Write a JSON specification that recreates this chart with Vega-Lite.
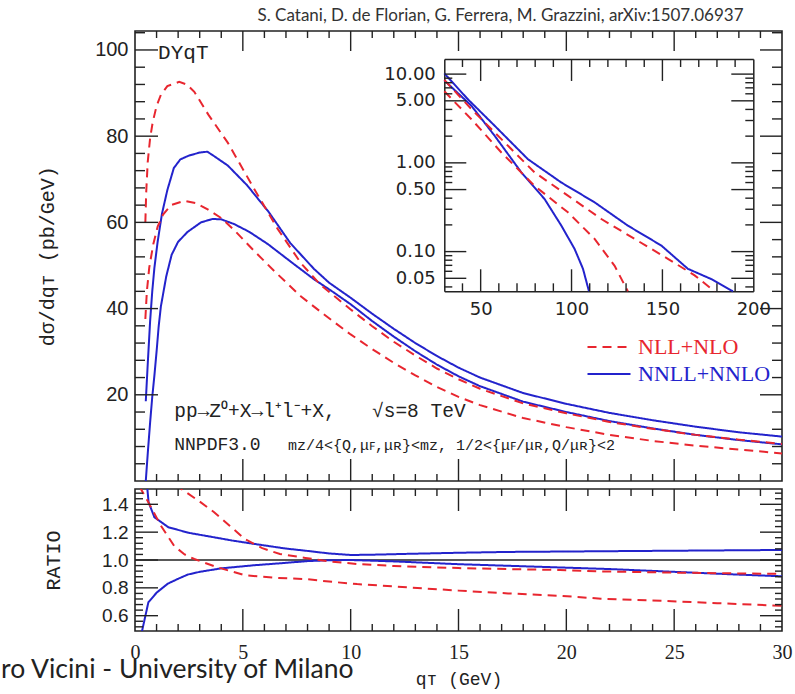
{
  "$schema": "https://vega.github.io/schema/vega-lite/v6.json",
  "background": "white",
  "padding": {"left": 0, "top": 6, "right": 5, "bottom": 2},
  "title": {"text": "S. Catani, D. de Florian, G. Ferrera, M. Grazzini, arXiv:1507.06937", "font": "Lato", "fontSize": 17, "fontWeight": "normal", "color": "#333", "anchor": "middle", "dx": 104, "offset": 5},
  "config": {
    "view": {"stroke": "#222", "strokeWidth": 1.6},
    "axis": {"domain": false, "grid": false, "ticks": false, "labelColor": "#222", "titleColor": "#222", "titleFontWeight": "normal", "labelFlush": false},
    "rule": {"color": "#222", "strokeWidth": 1.4, "opacity": 1}
  },
  "datasets": {
    "main": [
      {"c": "bu", "s": "NNLL+NNLO", "x": 0.5, "y": 18.5}, {"c": "bu", "s": "NNLL+NNLO", "x": 0.6, "y": 28}, {"c": "bu", "s": "NNLL+NNLO", "x": 0.7, "y": 37}, {"c": "bu", "s": "NNLL+NNLO", "x": 0.8, "y": 44}, {"c": "bu", "s": "NNLL+NNLO", "x": 0.9, "y": 49.5}, {"c": "bu", "s": "NNLL+NNLO", "x": 1.05, "y": 55.5}, {"c": "bu", "s": "NNLL+NNLO", "x": 1.25, "y": 62}, {"c": "bu", "s": "NNLL+NNLO", "x": 1.5, "y": 67.5}, {"c": "bu", "s": "NNLL+NNLO", "x": 1.8, "y": 72.6}, {"c": "bu", "s": "NNLL+NNLO", "x": 2.1, "y": 74.6}, {"c": "bu", "s": "NNLL+NNLO", "x": 2.5, "y": 75.5}, {"c": "bu", "s": "NNLL+NNLO", "x": 3.0, "y": 76.2}, {"c": "bu", "s": "NNLL+NNLO", "x": 3.35, "y": 76.4}, {"c": "bu", "s": "NNLL+NNLO", "x": 3.6, "y": 75.6}, {"c": "bu", "s": "NNLL+NNLO", "x": 4.3, "y": 73.2}, {"c": "bu", "s": "NNLL+NNLO", "x": 5.2, "y": 68.6}, {"c": "bu", "s": "NNLL+NNLO", "x": 6.2, "y": 62.4}, {"c": "bu", "s": "NNLL+NNLO", "x": 7.2, "y": 55.2}, {"c": "bu", "s": "NNLL+NNLO", "x": 8.3, "y": 49.2}, {"c": "bu", "s": "NNLL+NNLO", "x": 9.0, "y": 46.0}, {"c": "bu", "s": "NNLL+NNLO", "x": 10, "y": 42.5}, {"c": "bu", "s": "NNLL+NNLO", "x": 11, "y": 38.8}, {"c": "bu", "s": "NNLL+NNLO", "x": 12, "y": 35.3}, {"c": "bu", "s": "NNLL+NNLO", "x": 13, "y": 32.0}, {"c": "bu", "s": "NNLL+NNLO", "x": 14, "y": 29.0}, {"c": "bu", "s": "NNLL+NNLO", "x": 15, "y": 26.3}, {"c": "bu", "s": "NNLL+NNLO", "x": 16, "y": 24.0}, {"c": "bu", "s": "NNLL+NNLO", "x": 18, "y": 20.4}, {"c": "bu", "s": "NNLL+NNLO", "x": 20, "y": 17.9}, {"c": "bu", "s": "NNLL+NNLO", "x": 22, "y": 15.8}, {"c": "bu", "s": "NNLL+NNLO", "x": 24, "y": 14.1}, {"c": "bu", "s": "NNLL+NNLO", "x": 26, "y": 12.6}, {"c": "bu", "s": "NNLL+NNLO", "x": 28, "y": 11.3}, {"c": "bu", "s": "NNLL+NNLO", "x": 30, "y": 10.3},
      {"c": "bl", "s": "NNLL+NNLO", "x": 0.5, "y": 0}, {"c": "bl", "s": "NNLL+NNLO", "x": 0.6, "y": 7}, {"c": "bl", "s": "NNLL+NNLO", "x": 0.7, "y": 13.5}, {"c": "bl", "s": "NNLL+NNLO", "x": 0.8, "y": 19.5}, {"c": "bl", "s": "NNLL+NNLO", "x": 0.9, "y": 24.5}, {"c": "bl", "s": "NNLL+NNLO", "x": 1.0, "y": 30}, {"c": "bl", "s": "NNLL+NNLO", "x": 1.1, "y": 36}, {"c": "bl", "s": "NNLL+NNLO", "x": 1.2, "y": 40.5}, {"c": "bl", "s": "NNLL+NNLO", "x": 1.45, "y": 47.5}, {"c": "bl", "s": "NNLL+NNLO", "x": 1.7, "y": 52.5}, {"c": "bl", "s": "NNLL+NNLO", "x": 2.0, "y": 55.5}, {"c": "bl", "s": "NNLL+NNLO", "x": 2.44, "y": 57.8}, {"c": "bl", "s": "NNLL+NNLO", "x": 3.06, "y": 60.0}, {"c": "bl", "s": "NNLL+NNLO", "x": 3.6, "y": 60.8}, {"c": "bl", "s": "NNLL+NNLO", "x": 4.0, "y": 60.7}, {"c": "bl", "s": "NNLL+NNLO", "x": 4.6, "y": 59.6}, {"c": "bl", "s": "NNLL+NNLO", "x": 5.3, "y": 57.8}, {"c": "bl", "s": "NNLL+NNLO", "x": 6.15, "y": 55.0}, {"c": "bl", "s": "NNLL+NNLO", "x": 7.4, "y": 50.2}, {"c": "bl", "s": "NNLL+NNLO", "x": 8.3, "y": 46.8}, {"c": "bl", "s": "NNLL+NNLO", "x": 9.2, "y": 43.8}, {"c": "bl", "s": "NNLL+NNLO", "x": 10, "y": 41.0}, {"c": "bl", "s": "NNLL+NNLO", "x": 11, "y": 37.1}, {"c": "bl", "s": "NNLL+NNLO", "x": 12, "y": 33.5}, {"c": "bl", "s": "NNLL+NNLO", "x": 13, "y": 30.1}, {"c": "bl", "s": "NNLL+NNLO", "x": 14, "y": 27.0}, {"c": "bl", "s": "NNLL+NNLO", "x": 15, "y": 24.3}, {"c": "bl", "s": "NNLL+NNLO", "x": 16, "y": 22.0}, {"c": "bl", "s": "NNLL+NNLO", "x": 18, "y": 18.4}, {"c": "bl", "s": "NNLL+NNLO", "x": 20, "y": 16.0}, {"c": "bl", "s": "NNLL+NNLO", "x": 22, "y": 13.9}, {"c": "bl", "s": "NNLL+NNLO", "x": 24, "y": 12.2}, {"c": "bl", "s": "NNLL+NNLO", "x": 26, "y": 10.7}, {"c": "bl", "s": "NNLL+NNLO", "x": 28, "y": 9.5}, {"c": "bl", "s": "NNLL+NNLO", "x": 30, "y": 8.5},
      {"c": "ru", "s": "NLL+NLO", "x": 0.48, "y": 60}, {"c": "ru", "s": "NLL+NLO", "x": 0.52, "y": 67}, {"c": "ru", "s": "NLL+NLO", "x": 0.59, "y": 74}, {"c": "ru", "s": "NLL+NLO", "x": 0.7, "y": 79.5}, {"c": "ru", "s": "NLL+NLO", "x": 0.82, "y": 83.2}, {"c": "ru", "s": "NLL+NLO", "x": 1.0, "y": 87}, {"c": "ru", "s": "NLL+NLO", "x": 1.2, "y": 89.6}, {"c": "ru", "s": "NLL+NLO", "x": 1.5, "y": 91.6}, {"c": "ru", "s": "NLL+NLO", "x": 2.05, "y": 92.6}, {"c": "ru", "s": "NLL+NLO", "x": 2.4, "y": 92.0}, {"c": "ru", "s": "NLL+NLO", "x": 2.75, "y": 90.3}, {"c": "ru", "s": "NLL+NLO", "x": 3.4, "y": 85.0}, {"c": "ru", "s": "NLL+NLO", "x": 4.3, "y": 78.5}, {"c": "ru", "s": "NLL+NLO", "x": 5.5, "y": 68.0}, {"c": "ru", "s": "NLL+NLO", "x": 6.6, "y": 58.6}, {"c": "ru", "s": "NLL+NLO", "x": 7.7, "y": 50.5}, {"c": "ru", "s": "NLL+NLO", "x": 8.6, "y": 45.5}, {"c": "ru", "s": "NLL+NLO", "x": 10, "y": 39.8}, {"c": "ru", "s": "NLL+NLO", "x": 11, "y": 35.9}, {"c": "ru", "s": "NLL+NLO", "x": 12, "y": 32.3}, {"c": "ru", "s": "NLL+NLO", "x": 13, "y": 29.1}, {"c": "ru", "s": "NLL+NLO", "x": 14, "y": 26.1}, {"c": "ru", "s": "NLL+NLO", "x": 15, "y": 23.6}, {"c": "ru", "s": "NLL+NLO", "x": 16, "y": 21.4}, {"c": "ru", "s": "NLL+NLO", "x": 18, "y": 18.0}, {"c": "ru", "s": "NLL+NLO", "x": 20, "y": 15.7}, {"c": "ru", "s": "NLL+NLO", "x": 22, "y": 13.7}, {"c": "ru", "s": "NLL+NLO", "x": 24, "y": 12.1}, {"c": "ru", "s": "NLL+NLO", "x": 26, "y": 10.7}, {"c": "ru", "s": "NLL+NLO", "x": 28, "y": 9.6}, {"c": "ru", "s": "NLL+NLO", "x": 30, "y": 8.6},
      {"c": "rl", "s": "NLL+NLO", "x": 0.48, "y": 37.6}, {"c": "rl", "s": "NLL+NLO", "x": 0.55, "y": 44}, {"c": "rl", "s": "NLL+NLO", "x": 0.66, "y": 49.5}, {"c": "rl", "s": "NLL+NLO", "x": 0.85, "y": 55}, {"c": "rl", "s": "NLL+NLO", "x": 1.05, "y": 59}, {"c": "rl", "s": "NLL+NLO", "x": 1.3, "y": 61.8}, {"c": "rl", "s": "NLL+NLO", "x": 1.67, "y": 64}, {"c": "rl", "s": "NLL+NLO", "x": 2.29, "y": 65}, {"c": "rl", "s": "NLL+NLO", "x": 2.8, "y": 64.5}, {"c": "rl", "s": "NLL+NLO", "x": 3.37, "y": 63}, {"c": "rl", "s": "NLL+NLO", "x": 4.0, "y": 61}, {"c": "rl", "s": "NLL+NLO", "x": 4.6, "y": 58.2}, {"c": "rl", "s": "NLL+NLO", "x": 5.5, "y": 53.5}, {"c": "rl", "s": "NLL+NLO", "x": 6.5, "y": 48.5}, {"c": "rl", "s": "NLL+NLO", "x": 7.7, "y": 42.8}, {"c": "rl", "s": "NLL+NLO", "x": 8.8, "y": 38.5}, {"c": "rl", "s": "NLL+NLO", "x": 10, "y": 34.0}, {"c": "rl", "s": "NLL+NLO", "x": 11, "y": 30.6}, {"c": "rl", "s": "NLL+NLO", "x": 12, "y": 27.4}, {"c": "rl", "s": "NLL+NLO", "x": 13, "y": 24.5}, {"c": "rl", "s": "NLL+NLO", "x": 14, "y": 21.8}, {"c": "rl", "s": "NLL+NLO", "x": 15, "y": 19.5}, {"c": "rl", "s": "NLL+NLO", "x": 16, "y": 17.6}, {"c": "rl", "s": "NLL+NLO", "x": 18, "y": 14.6}, {"c": "rl", "s": "NLL+NLO", "x": 20, "y": 12.5}, {"c": "rl", "s": "NLL+NLO", "x": 22, "y": 10.7}, {"c": "rl", "s": "NLL+NLO", "x": 24, "y": 9.3}, {"c": "rl", "s": "NLL+NLO", "x": 26, "y": 8.2}, {"c": "rl", "s": "NLL+NLO", "x": 28, "y": 7.3}, {"c": "rl", "s": "NLL+NLO", "x": 30, "y": 6.4}
    ],
    "inset": [
      {"c": "bu", "s": "NNLL+NNLO", "x": 30, "y": 10.2}, {"c": "bu", "s": "NNLL+NNLO", "x": 43, "y": 5.2}, {"c": "bu", "s": "NNLL+NNLO", "x": 57.7, "y": 2.62}, {"c": "bu", "s": "NNLL+NNLO", "x": 76, "y": 1.10}, {"c": "bu", "s": "NNLL+NNLO", "x": 94.4, "y": 0.60}, {"c": "bu", "s": "NNLL+NNLO", "x": 112.7, "y": 0.359}, {"c": "bu", "s": "NNLL+NNLO", "x": 131, "y": 0.196}, {"c": "bu", "s": "NNLL+NNLO", "x": 149.4, "y": 0.117}, {"c": "bu", "s": "NNLL+NNLO", "x": 164, "y": 0.064}, {"c": "bu", "s": "NNLL+NNLO", "x": 176.9, "y": 0.049}, {"c": "bu", "s": "NNLL+NNLO", "x": 188.8, "y": 0.0357},
      {"c": "bl", "s": "NNLL+NNLO", "x": 30, "y": 8.5}, {"c": "bl", "s": "NNLL+NNLO", "x": 44.9, "y": 4.4}, {"c": "bl", "s": "NNLL+NNLO", "x": 57.7, "y": 2.02}, {"c": "bl", "s": "NNLL+NNLO", "x": 72.4, "y": 0.78}, {"c": "bl", "s": "NNLL+NNLO", "x": 85.2, "y": 0.39}, {"c": "bl", "s": "NNLL+NNLO", "x": 94.4, "y": 0.196}, {"c": "bl", "s": "NNLL+NNLO", "x": 101.7, "y": 0.107}, {"c": "bl", "s": "NNLL+NNLO", "x": 106.3, "y": 0.064}, {"c": "bl", "s": "NNLL+NNLO", "x": 109.6, "y": 0.0357},
      {"c": "ru", "s": "NLL+NLO", "x": 30, "y": 8.6}, {"c": "ru", "s": "NLL+NLO", "x": 44.9, "y": 4.04}, {"c": "ru", "s": "NLL+NLO", "x": 61.4, "y": 1.85}, {"c": "ru", "s": "NLL+NLO", "x": 79.7, "y": 0.78}, {"c": "ru", "s": "NLL+NLO", "x": 98, "y": 0.427}, {"c": "ru", "s": "NLL+NLO", "x": 116.4, "y": 0.233}, {"c": "ru", "s": "NLL+NLO", "x": 134.7, "y": 0.139}, {"c": "ru", "s": "NLL+NLO", "x": 153, "y": 0.083}, {"c": "ru", "s": "NLL+NLO", "x": 167.7, "y": 0.054}, {"c": "ru", "s": "NLL+NLO", "x": 178.7, "y": 0.0357},
      {"c": "rl", "s": "NLL+NLO", "x": 30, "y": 6.4}, {"c": "rl", "s": "NLL+NLO", "x": 44.9, "y": 3.1}, {"c": "rl", "s": "NLL+NLO", "x": 61.4, "y": 1.31}, {"c": "rl", "s": "NLL+NLO", "x": 79.7, "y": 0.55}, {"c": "rl", "s": "NLL+NLO", "x": 98, "y": 0.277}, {"c": "rl", "s": "NLL+NLO", "x": 112.7, "y": 0.139}, {"c": "rl", "s": "NLL+NLO", "x": 123.7, "y": 0.069}, {"c": "rl", "s": "NLL+NLO", "x": 131, "y": 0.0357}
    ],
    "ratio": [
      {"c": "bu", "s": "NNLL+NNLO", "x": 0.52, "y": 1.6}, {"c": "bu", "s": "NNLL+NNLO", "x": 0.63, "y": 1.415}, {"c": "bu", "s": "NNLL+NNLO", "x": 0.9, "y": 1.307}, {"c": "bu", "s": "NNLL+NNLO", "x": 1.55, "y": 1.235}, {"c": "bu", "s": "NNLL+NNLO", "x": 2.5, "y": 1.195}, {"c": "bu", "s": "NNLL+NNLO", "x": 3.67, "y": 1.163}, {"c": "bu", "s": "NNLL+NNLO", "x": 4.5, "y": 1.14}, {"c": "bu", "s": "NNLL+NNLO", "x": 5.55, "y": 1.115}, {"c": "bu", "s": "NNLL+NNLO", "x": 7.0, "y": 1.082}, {"c": "bu", "s": "NNLL+NNLO", "x": 7.9, "y": 1.067}, {"c": "bu", "s": "NNLL+NNLO", "x": 9.0, "y": 1.047}, {"c": "bu", "s": "NNLL+NNLO", "x": 10.0, "y": 1.036}, {"c": "bu", "s": "NNLL+NNLO", "x": 11, "y": 1.038}, {"c": "bu", "s": "NNLL+NNLO", "x": 12.6, "y": 1.044}, {"c": "bu", "s": "NNLL+NNLO", "x": 15, "y": 1.052}, {"c": "bu", "s": "NNLL+NNLO", "x": 17.3, "y": 1.058}, {"c": "bu", "s": "NNLL+NNLO", "x": 20, "y": 1.061}, {"c": "bu", "s": "NNLL+NNLO", "x": 24.4, "y": 1.066}, {"c": "bu", "s": "NNLL+NNLO", "x": 30, "y": 1.072},
      {"c": "bl", "s": "NNLL+NNLO", "x": 0.27, "y": 0.45}, {"c": "bl", "s": "NNLL+NNLO", "x": 0.62, "y": 0.696}, {"c": "bl", "s": "NNLL+NNLO", "x": 1.0, "y": 0.765}, {"c": "bl", "s": "NNLL+NNLO", "x": 1.52, "y": 0.83}, {"c": "bl", "s": "NNLL+NNLO", "x": 2.0, "y": 0.865}, {"c": "bl", "s": "NNLL+NNLO", "x": 2.44, "y": 0.895}, {"c": "bl", "s": "NNLL+NNLO", "x": 3.0, "y": 0.915}, {"c": "bl", "s": "NNLL+NNLO", "x": 4.0, "y": 0.94}, {"c": "bl", "s": "NNLL+NNLO", "x": 5.5, "y": 0.962}, {"c": "bl", "s": "NNLL+NNLO", "x": 6.7, "y": 0.976}, {"c": "bl", "s": "NNLL+NNLO", "x": 8.0, "y": 0.992}, {"c": "bl", "s": "NNLL+NNLO", "x": 9.0, "y": 0.998}, {"c": "bl", "s": "NNLL+NNLO", "x": 10, "y": 1.0}, {"c": "bl", "s": "NNLL+NNLO", "x": 12, "y": 0.99}, {"c": "bl", "s": "NNLL+NNLO", "x": 15, "y": 0.97}, {"c": "bl", "s": "NNLL+NNLO", "x": 17, "y": 0.96}, {"c": "bl", "s": "NNLL+NNLO", "x": 20, "y": 0.945}, {"c": "bl", "s": "NNLL+NNLO", "x": 22, "y": 0.935}, {"c": "bl", "s": "NNLL+NNLO", "x": 25, "y": 0.915}, {"c": "bl", "s": "NNLL+NNLO", "x": 28, "y": 0.895}, {"c": "bl", "s": "NNLL+NNLO", "x": 30, "y": 0.883},
      {"c": "ru", "s": "NLL+NLO", "x": 2.0, "y": 1.56}, {"c": "ru", "s": "NLL+NLO", "x": 2.15, "y": 1.51}, {"c": "ru", "s": "NLL+NLO", "x": 3.0, "y": 1.42}, {"c": "ru", "s": "NLL+NLO", "x": 3.67, "y": 1.343}, {"c": "ru", "s": "NLL+NLO", "x": 4.4, "y": 1.245}, {"c": "ru", "s": "NLL+NLO", "x": 5.08, "y": 1.151}, {"c": "ru", "s": "NLL+NLO", "x": 5.9, "y": 1.085}, {"c": "ru", "s": "NLL+NLO", "x": 6.72, "y": 1.043}, {"c": "ru", "s": "NLL+NLO", "x": 7.9, "y": 1.015}, {"c": "ru", "s": "NLL+NLO", "x": 9.0, "y": 0.99}, {"c": "ru", "s": "NLL+NLO", "x": 10.3, "y": 0.971}, {"c": "ru", "s": "NLL+NLO", "x": 12, "y": 0.957}, {"c": "ru", "s": "NLL+NLO", "x": 15, "y": 0.942}, {"c": "ru", "s": "NLL+NLO", "x": 17.3, "y": 0.935}, {"c": "ru", "s": "NLL+NLO", "x": 19.7, "y": 0.928}, {"c": "ru", "s": "NLL+NLO", "x": 21.6, "y": 0.918}, {"c": "ru", "s": "NLL+NLO", "x": 24.4, "y": 0.911}, {"c": "ru", "s": "NLL+NLO", "x": 27, "y": 0.905}, {"c": "ru", "s": "NLL+NLO", "x": 30, "y": 0.9},
      {"c": "rl", "s": "NLL+NLO", "x": 0.2, "y": 1.53}, {"c": "rl", "s": "NLL+NLO", "x": 0.62, "y": 1.415}, {"c": "rl", "s": "NLL+NLO", "x": 1.2, "y": 1.247}, {"c": "rl", "s": "NLL+NLO", "x": 1.82, "y": 1.10}, {"c": "rl", "s": "NLL+NLO", "x": 2.3, "y": 1.04}, {"c": "rl", "s": "NLL+NLO", "x": 2.75, "y": 1.007}, {"c": "rl", "s": "NLL+NLO", "x": 3.83, "y": 0.947}, {"c": "rl", "s": "NLL+NLO", "x": 5.1, "y": 0.89}, {"c": "rl", "s": "NLL+NLO", "x": 6.5, "y": 0.872}, {"c": "rl", "s": "NLL+NLO", "x": 7.9, "y": 0.863}, {"c": "rl", "s": "NLL+NLO", "x": 9.0, "y": 0.845}, {"c": "rl", "s": "NLL+NLO", "x": 10.3, "y": 0.827}, {"c": "rl", "s": "NLL+NLO", "x": 12, "y": 0.81}, {"c": "rl", "s": "NLL+NLO", "x": 15, "y": 0.78}, {"c": "rl", "s": "NLL+NLO", "x": 17.3, "y": 0.76}, {"c": "rl", "s": "NLL+NLO", "x": 19.7, "y": 0.743}, {"c": "rl", "s": "NLL+NLO", "x": 21.6, "y": 0.722}, {"c": "rl", "s": "NLL+NLO", "x": 24.4, "y": 0.707}, {"c": "rl", "s": "NLL+NLO", "x": 27, "y": 0.69}, {"c": "rl", "s": "NLL+NLO", "x": 30, "y": 0.671}
    ],
    "mainYMajor": [{"y": 20}, {"y": 40}, {"y": 60}, {"y": 80}, {"y": 100}],
    "mainYMinor": [{"y": 4}, {"y": 8}, {"y": 12}, {"y": 16}, {"y": 24}, {"y": 28}, {"y": 32}, {"y": 36}, {"y": 44}, {"y": 48}, {"y": 52}, {"y": 56}, {"y": 64}, {"y": 68}, {"y": 72}, {"y": 76}, {"y": 84}, {"y": 88}, {"y": 92}, {"y": 96}, {"y": 104}],
    "qtMajor": [{"x": 5}, {"x": 10}, {"x": 15}, {"x": 20}, {"x": 25}],
    "qtMinor": [{"x": 1}, {"x": 2}, {"x": 3}, {"x": 4}, {"x": 6}, {"x": 7}, {"x": 8}, {"x": 9}, {"x": 11}, {"x": 12}, {"x": 13}, {"x": 14}, {"x": 16}, {"x": 17}, {"x": 18}, {"x": 19}, {"x": 21}, {"x": 22}, {"x": 23}, {"x": 24}, {"x": 26}, {"x": 27}, {"x": 28}, {"x": 29}],
    "insetYMajor": [{"y": 0.05}, {"y": 0.1}, {"y": 0.5}, {"y": 1}, {"y": 5}, {"y": 10}],
    "insetYMinor": [{"y": 0.04}, {"y": 0.06}, {"y": 0.07}, {"y": 0.08}, {"y": 0.09}, {"y": 0.2}, {"y": 0.3}, {"y": 0.4}, {"y": 0.6}, {"y": 0.7}, {"y": 0.8}, {"y": 0.9}, {"y": 2}, {"y": 3}, {"y": 4}, {"y": 6}, {"y": 7}, {"y": 8}, {"y": 9}],
    "insetXMajor": [{"x": 50}, {"x": 100}, {"x": 150}],
    "insetXMinor": [{"x": 40}, {"x": 60}, {"x": 70}, {"x": 80}, {"x": 90}, {"x": 110}, {"x": 120}, {"x": 130}, {"x": 140}, {"x": 160}, {"x": 170}, {"x": 180}, {"x": 190}],
    "ratioMajor": [{"y": 0.6}, {"y": 0.8}, {"y": 1.0}, {"y": 1.2}, {"y": 1.4}],
    "ratioMinor": [{"y": 0.52}, {"y": 0.56}, {"y": 0.64}, {"y": 0.68}, {"y": 0.72}, {"y": 0.76}, {"y": 0.84}, {"y": 0.88}, {"y": 0.92}, {"y": 0.96}, {"y": 1.04}, {"y": 1.08}, {"y": 1.12}, {"y": 1.16}, {"y": 1.24}, {"y": 1.28}, {"y": 1.32}, {"y": 1.36}, {"y": 1.44}, {"y": 1.48}]
  },
  "bounds": "flush",
  "spacing": 8,
  "vconcat": [
    {
      "width": 647,
      "height": 450,
      "layer": [
        {
          "layer": [
            {
              "data": {"name": "main"},
              "mark": {"type": "line", "strokeWidth": 2, "clip": true},
              "encoding": {
                "x": {"field": "x", "type": "quantitative", "scale": {"domain": [0, 30], "nice": false, "zero": false}, "axis": null},
                "y": {"field": "y", "type": "quantitative", "scale": {"domain": [0, 104.4], "nice": false, "zero": false}, "axis": {"orient": "left", "values": [20, 40, 60, 80, 100], "labelPadding": 7, "labelFont": "Liberation Sans", "labelFontSize": 20, "title": "dσ/dqᴛ (pb/GeV)", "titleFont": "Liberation Mono", "titleFontSize": 20, "titleX": -88, "titleY": 224.7, "titleAngle": -90, "titleAlign": "center", "titleBaseline": "middle"}},
                "color": {"field": "s", "type": "nominal", "scale": {"domain": ["NLL+NLO", "NNLL+NNLO"], "range": ["#e8262f", "#2323cc"]}, "legend": {"orient": "none", "legendX": 463, "legendY": 305, "title": null, "symbolType": "M-2.15,0H2.15", "symbolSize": 400, "symbolStrokeWidth": 2, "labelFont": "Liberation Serif", "labelFontSize": 22, "labelOffset": 18, "rowPadding": 5, "padding": 0, "encode": {"labels": {"update": {"fill": {"signal": "datum.value === 'NLL+NLO' ? '#e8262f' : '#2323cc'"}}}}}},
                "strokeDash": {"field": "s", "type": "nominal", "scale": {"domain": ["NLL+NLO", "NNLL+NNLO"], "range": [[9, 6], [1, 0]]}, "legend": {"orient": "none", "legendX": 463, "legendY": 305, "title": null, "symbolType": "M-2.15,0H2.15", "symbolSize": 400, "symbolStrokeWidth": 2, "labelFont": "Liberation Serif", "labelFontSize": 22, "labelOffset": 18, "rowPadding": 5, "padding": 0}},
                "detail": {"field": "c"}
              }
            },
            {"data": {"name": "mainYMajor"}, "mark": {"type": "rule"}, "encoding": {"y": {"field": "y", "type": "quantitative", "axis": null}, "x": {"datum": 0, "type": "quantitative", "axis": null}, "x2": {"datum": 1.066}}},
            {"data": {"name": "mainYMinor"}, "mark": {"type": "rule"}, "encoding": {"y": {"field": "y", "type": "quantitative", "axis": null}, "x": {"datum": 0, "type": "quantitative", "axis": null}, "x2": {"datum": 0.464}}},
            {"data": {"name": "mainYMajor"}, "mark": {"type": "rule"}, "encoding": {"y": {"field": "y", "type": "quantitative", "axis": null}, "x": {"datum": 28.98, "type": "quantitative", "axis": null}, "x2": {"datum": 30}}},
            {"data": {"name": "mainYMinor"}, "mark": {"type": "rule"}, "encoding": {"y": {"field": "y", "type": "quantitative", "axis": null}, "x": {"datum": 29.536, "type": "quantitative", "axis": null}, "x2": {"datum": 30}}},
            {"data": {"name": "qtMajor"}, "mark": {"type": "rule"}, "encoding": {"x": {"field": "x", "type": "quantitative", "axis": null}, "y": {"datum": 0, "type": "quantitative", "axis": null}, "y2": {"datum": 5.1}}},
            {"data": {"name": "qtMinor"}, "mark": {"type": "rule"}, "encoding": {"x": {"field": "x", "type": "quantitative", "axis": null}, "y": {"datum": 0, "type": "quantitative", "axis": null}, "y2": {"datum": 1.62}}},
            {"data": {"name": "qtMajor"}, "mark": {"type": "rule"}, "encoding": {"x": {"field": "x", "type": "quantitative", "axis": null}, "y": {"datum": 99.76, "type": "quantitative", "axis": null}, "y2": {"datum": 104.4}}},
            {"data": {"name": "qtMinor"}, "mark": {"type": "rule"}, "encoding": {"x": {"field": "x", "type": "quantitative", "axis": null}, "y": {"datum": 102.78, "type": "quantitative", "axis": null}, "y2": {"datum": 104.4}}},
            {
              "data": {"values": [{"x": 1.07, "y": 99.2, "t": "DYqT"}]},
              "mark": {"type": "text", "align": "left", "baseline": "middle", "font": "Liberation Mono", "fontSize": 21, "color": "#222"},
              "encoding": {
                "x": {"field": "x", "type": "quantitative", "axis": null},
                "y": {"field": "y", "type": "quantitative", "axis": null},
                "text": {"field": "t"}
              }
            },
            {
              "data": {"values": [{"x": 1.82, "y": 16.3, "t": "pp→Z⁰+X→l⁺l⁻+X,"}, {"x": 10.99, "y": 16.3, "t": "√s=8 TeV"}]},
              "mark": {"type": "text", "align": "left", "baseline": "middle", "font": "Liberation Mono", "fontSize": 19.5, "color": "#222"},
              "encoding": {
                "x": {"field": "x", "type": "quantitative", "axis": null},
                "y": {"field": "y", "type": "quantitative", "axis": null},
                "text": {"field": "t"}
              }
            },
            {
              "data": {"values": [{"x": 1.82, "y": 8.4, "t": "NNPDF3.0"}]},
              "mark": {"type": "text", "align": "left", "baseline": "middle", "font": "Liberation Mono", "fontSize": 18, "color": "#222"},
              "encoding": {
                "x": {"field": "x", "type": "quantitative", "axis": null},
                "y": {"field": "y", "type": "quantitative", "axis": null},
                "text": {"field": "t"}
              }
            },
            {
              "data": {"values": [{"x": 7.09, "y": 8.4, "t": "mᴢ/4<{Q,μꜰ,μʀ}<mᴢ, 1/2<{μꜰ/μʀ,Q/μʀ}<2"}]},
              "mark": {"type": "text", "align": "left", "baseline": "middle", "font": "Liberation Mono", "fontSize": 15, "color": "#222"},
              "encoding": {
                "x": {"field": "x", "type": "quantitative", "axis": null},
                "y": {"field": "y", "type": "quantitative", "axis": null},
                "text": {"field": "t"}
              }
            }
          ],
          "resolve": {"axis": {"x": "independent", "y": "independent"}}
        },
        {
          "layer": [
            {
              "data": {"name": "inset"},
              "mark": {"type": "line", "strokeWidth": 2},
              "encoding": {
                "x": {"field": "x", "type": "quantitative", "scale": {"type": "linear", "domain": [30, 200], "range": [309.3, 618.3], "nice": false, "zero": false}, "axis": {"orient": "bottom", "offset": -189.7, "values": [50, 100, 150, 200], "format": "d", "labelPadding": 9, "labelFont": "DejaVu Sans", "labelFontSize": 18, "domain": true, "domainColor": "#222", "domainWidth": 1.5, "title": null}},
                "y": {"field": "y", "type": "quantitative", "scale": {"type": "log", "domain": [0.0357, 14.8], "range": [260.3, 28], "nice": false}, "axis": {"orient": "left", "offset": -309.3, "values": [0.05, 0.1, 0.5, 1, 5, 10], "format": ".2f", "labelPadding": 9, "labelFont": "DejaVu Sans", "labelFontSize": 18, "labelOverlap": false, "domain": true, "domainColor": "#222", "domainWidth": 1.5, "title": null}},
                "color": {"field": "s", "type": "nominal", "scale": {"domain": ["NLL+NLO", "NNLL+NNLO"], "range": ["#e8262f", "#2323cc"]}},
                "strokeDash": {"field": "s", "type": "nominal", "scale": {"domain": ["NLL+NLO", "NNLL+NNLO"], "range": [[9, 6], [1, 0]]}},
                "detail": {"field": "c"}
              }
            },
            {
              "data": {"name": "inset"},
              "mark": {"type": "line", "opacity": 0},
              "encoding": {
                "x": {"field": "x", "type": "quantitative", "axis": {"orient": "top", "offset": -28, "labels": false, "domain": true, "domainColor": "#222", "domainWidth": 1.5, "title": null}},
                "y": {"field": "y", "type": "quantitative", "axis": {"orient": "right", "offset": -28.7, "labels": false, "domain": true, "domainColor": "#222", "domainWidth": 1.5, "title": null}},
                "detail": {"field": "c"}
              }
            },
            {"data": {"name": "insetYMajor"}, "mark": {"type": "rule"}, "encoding": {"y": {"field": "y", "type": "quantitative", "axis": null}, "x": {"datum": 30, "type": "quantitative", "axis": null}, "x2": {"datum": 42.1}}},
            {"data": {"name": "insetYMinor"}, "mark": {"type": "rule"}, "encoding": {"y": {"field": "y", "type": "quantitative", "axis": null}, "x": {"datum": 30, "type": "quantitative", "axis": null}, "x2": {"datum": 34.4}}},
            {"data": {"name": "insetYMajor"}, "mark": {"type": "rule"}, "encoding": {"y": {"field": "y", "type": "quantitative", "axis": null}, "x": {"datum": 187.9, "type": "quantitative", "axis": null}, "x2": {"datum": 200}}},
            {"data": {"name": "insetYMinor"}, "mark": {"type": "rule"}, "encoding": {"y": {"field": "y", "type": "quantitative", "axis": null}, "x": {"datum": 195.6, "type": "quantitative", "axis": null}, "x2": {"datum": 200}}},
            {"data": {"name": "insetXMajor"}, "mark": {"type": "rule"}, "encoding": {"x": {"field": "x", "type": "quantitative", "axis": null}, "y": {"datum": 0.0357, "type": "quantitative", "axis": null}, "y2": {"datum": 0.0632}}},
            {"data": {"name": "insetXMinor"}, "mark": {"type": "rule"}, "encoding": {"x": {"field": "x", "type": "quantitative", "axis": null}, "y": {"datum": 0.0357, "type": "quantitative", "axis": null}, "y2": {"datum": 0.0439}}},
            {"data": {"name": "insetXMajor"}, "mark": {"type": "rule"}, "encoding": {"x": {"field": "x", "type": "quantitative", "axis": null}, "y": {"datum": 8.37, "type": "quantitative", "axis": null}, "y2": {"datum": 14.8}}},
            {"data": {"name": "insetXMinor"}, "mark": {"type": "rule"}, "encoding": {"x": {"field": "x", "type": "quantitative", "axis": null}, "y": {"datum": 12.03, "type": "quantitative", "axis": null}, "y2": {"datum": 14.8}}}
          ],
          "resolve": {"axis": {"x": "independent", "y": "independent"}}
        }
      ],
      "resolve": {"scale": {"x": "independent", "y": "independent"}}
    },
    {
      "width": 647,
      "height": 142,
      "layer": [
        {
          "data": {"values": [{}]},
          "mark": {"type": "rule", "strokeWidth": 1.3},
          "encoding": {
            "y": {"datum": 1, "type": "quantitative", "scale": {"domain": [0.49, 1.51], "nice": false, "zero": false}, "axis": null}
          }
        },
        {
          "data": {"name": "ratio"},
          "mark": {"type": "line", "strokeWidth": 2, "clip": true},
          "encoding": {
            "x": {"field": "x", "type": "quantitative", "scale": {"domain": [0, 30], "nice": false, "zero": false}, "axis": {"orient": "bottom", "values": [0, 5, 10, 15, 20, 25, 30], "labelPadding": 11, "labelFont": "Liberation Serif", "labelFontSize": 20, "labelFlush": false, "title": "qᴛ (GeV)", "titleFont": "Liberation Mono", "titleFontSize": 18, "titleX": 323.5, "titleY": 48, "titleAlign": "center", "titleBaseline": "middle"}},
            "y": {"field": "y", "type": "quantitative", "scale": {"domain": [0.49, 1.51], "nice": false, "zero": false}, "axis": {"orient": "left", "values": [0.6, 0.8, 1.0, 1.2, 1.4], "format": ".1f", "labelPadding": 7, "labelFont": "Liberation Sans", "labelFontSize": 19, "title": "RATIO", "titleFont": "Liberation Mono", "titleFontSize": 20, "titleX": -82, "titleY": 71, "titleAngle": -90, "titleAlign": "center", "titleBaseline": "middle"}},
            "color": {"field": "s", "type": "nominal", "scale": {"domain": ["NLL+NLO", "NNLL+NNLO"], "range": ["#e8262f", "#2323cc"]}},
            "strokeDash": {"field": "s", "type": "nominal", "scale": {"domain": ["NLL+NLO", "NNLL+NNLO"], "range": [[9, 6], [1, 0]]}},
            "detail": {"field": "c"}
          }
        },
        {"data": {"name": "ratioMajor"}, "mark": {"type": "rule"}, "encoding": {"y": {"field": "y", "type": "quantitative", "axis": null}, "x": {"datum": 0, "type": "quantitative", "axis": null}, "x2": {"datum": 1.066}}},
        {"data": {"name": "ratioMinor"}, "mark": {"type": "rule"}, "encoding": {"y": {"field": "y", "type": "quantitative", "axis": null}, "x": {"datum": 0, "type": "quantitative", "axis": null}, "x2": {"datum": 0.371}}},
        {"data": {"name": "ratioMajor"}, "mark": {"type": "rule"}, "encoding": {"y": {"field": "y", "type": "quantitative", "axis": null}, "x": {"datum": 28.98, "type": "quantitative", "axis": null}, "x2": {"datum": 30}}},
        {"data": {"name": "ratioMinor"}, "mark": {"type": "rule"}, "encoding": {"y": {"field": "y", "type": "quantitative", "axis": null}, "x": {"datum": 29.675, "type": "quantitative", "axis": null}, "x2": {"datum": 30}}},
        {"data": {"name": "qtMajor"}, "mark": {"type": "rule"}, "encoding": {"x": {"field": "x", "type": "quantitative", "axis": null}, "y": {"datum": 0.49, "type": "quantitative", "axis": null}, "y2": {"datum": 0.648}}},
        {"data": {"name": "qtMinor"}, "mark": {"type": "rule"}, "encoding": {"x": {"field": "x", "type": "quantitative", "axis": null}, "y": {"datum": 0.49, "type": "quantitative", "axis": null}, "y2": {"datum": 0.5403}}},
        {"data": {"name": "qtMajor"}, "mark": {"type": "rule"}, "encoding": {"x": {"field": "x", "type": "quantitative", "axis": null}, "y": {"datum": 1.352, "type": "quantitative", "axis": null}, "y2": {"datum": 1.51}}},
        {"data": {"name": "qtMinor"}, "mark": {"type": "rule"}, "encoding": {"x": {"field": "x", "type": "quantitative", "axis": null}, "y": {"datum": 1.4597, "type": "quantitative", "axis": null}, "y2": {"datum": 1.51}}},
        {
          "data": {"values": [{"x": -6.21, "y": 0.208, "t": "ro Vicini - University of Milano"}]},
          "mark": {"type": "text", "align": "left", "baseline": "middle", "font": "Lato", "fontSize": 26.5, "color": "#222"},
          "encoding": {
            "x": {"field": "x", "type": "quantitative", "axis": null},
            "y": {"field": "y", "type": "quantitative", "axis": null},
            "text": {"field": "t"}
          }
        }
      ],
      "resolve": {"axis": {"x": "independent", "y": "independent"}}
    }
  ]
}
